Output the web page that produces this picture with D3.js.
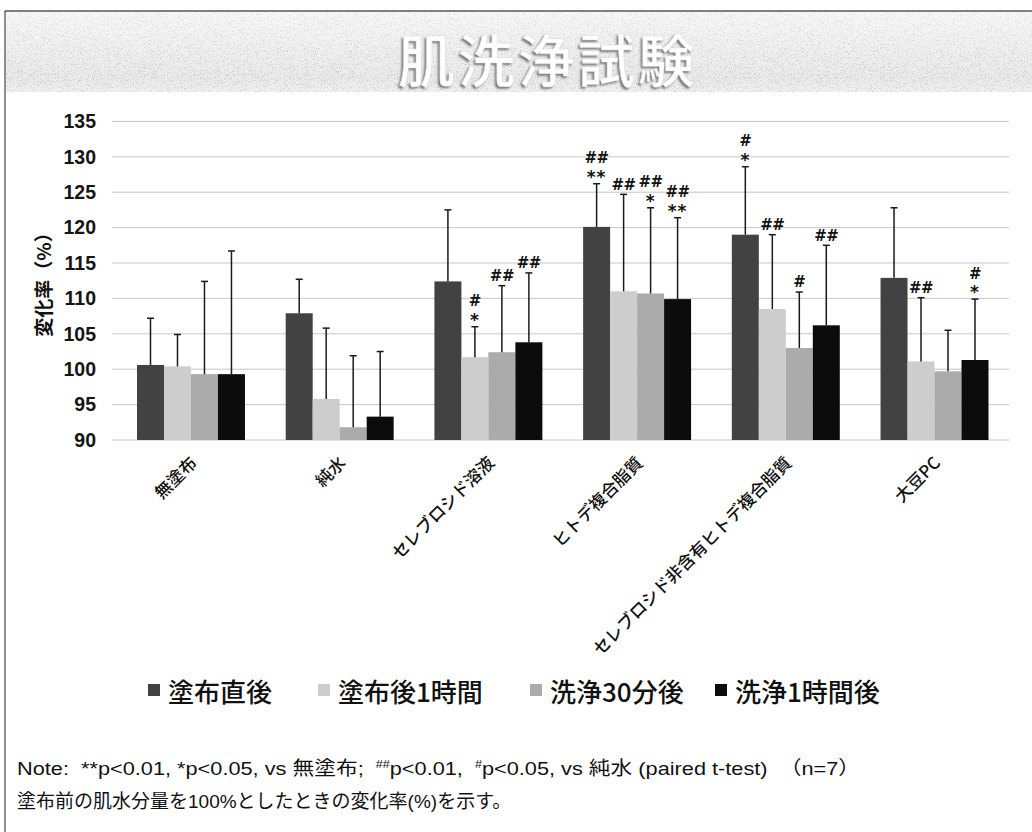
<!DOCTYPE html>
<html lang="ja">
<head>
<meta charset="utf-8">
<title>肌洗浄試験</title>
<script src="https://cdn.jsdelivr.net/npm/d3@7"></script>
<style>
html,body{margin:0;padding:0;background:#fff;}
svg{display:block;}
</style>
</head>
<body>
<script>
// 試料カテゴリ
const categories = ["無塗布","純水","セレブロシド溶液","ヒトデ複合脂質","セレブロシド非含有ヒトデ複合脂質","大豆PC"];
// 測定時点
const seriesNames = ["塗布直後","塗布後1時間","洗浄30分後","洗浄1時間後"];
// 平均変化率 (%)
const meanJustAfter = [100.6, 107.9, 112.4, 120.1, 119.0, 112.9];
const meanAfter1h   = [100.4,  95.8, 101.7, 111.0, 108.5, 101.1];
const meanWash30m   = [ 99.3,  91.8, 102.4, 110.7, 103.0,  99.7];
const meanWash1h    = [ 99.3,  93.3, 103.8, 109.9, 106.2, 101.3];
// 標準偏差
const sdJustAfter = [6.6,  4.8, 10.1,  6.1,  9.6, 9.9];
const sdAfter1h   = [4.5, 10.0,  4.3, 13.7, 10.5, 9.0];
const sdWash30m   = [13.1, 10.1, 9.4, 12.1,  7.9, 5.8];
const sdWash1h    = [17.4,  9.2, 9.8, 11.5, 11.3, 8.6];
// 有意差記号（上から順）
const sigJustAfter = [[], [], [], ["##","**"], ["#","*"], []];
const sigAfter1h   = [[], [], ["#","*"], ["##"], ["##"], ["##"]];
const sigWash30m   = [[], [], ["##"], ["##","*"], ["#"], []];
const sigWash1h    = [[], [], ["##"], ["##","**"], ["##"], ["#","*"]];
// y軸目盛
const yTicks = [90, 95, 100, 105, 110, 115, 120, 125, 130, 135];

const seriesColors = ["#424242", "#cdcdcd", "#ababab", "#0c0c0c"];
const meanTable = [meanJustAfter, meanAfter1h, meanWash30m, meanWash1h];
const sdTable = [sdJustAfter, sdAfter1h, sdWash30m, sdWash1h];
const sigTable = [sigJustAfter, sigAfter1h, sigWash30m, sigWash1h];

const rows = [];
categories.forEach((c, i) => {
  seriesNames.forEach((s, j) => {
    rows.push({cat: c, series: s, idx: j, mean: meanTable[j][i], sd: sdTable[j][i], sig: sigTable[j][i]});
  });
});

const W = 1032, H = 832;
const svg = d3.select("body").append("svg").attr("width", W).attr("height", H);
const defs = svg.append("defs");

// 見出し帯のざらつき
const grain = defs.append("filter").attr("id", "grain")
  .attr("x", 0).attr("y", 0).attr("width", "100%").attr("height", "100%");
grain.append("feTurbulence").attr("type", "fractalNoise").attr("baseFrequency", 1.3)
  .attr("numOctaves", 2).attr("seed", 7).attr("result", "noise");
grain.append("feColorMatrix").attr("in", "noise").attr("type", "matrix")
  .attr("values", "0 0 0 0 0.4  0 0 0 0 0.4  0 0 0 0 0.4  6 0 0 0 -3.2").attr("result", "dots");
grain.append("feComposite").attr("in", "dots").attr("in2", "SourceGraphic").attr("operator", "in");

const bandGrad = defs.append("linearGradient").attr("id", "bandGrad")
  .attr("x1", 0).attr("y1", 0).attr("x2", 0).attr("y2", 1);
bandGrad.append("stop").attr("offset", "0%").attr("stop-color", "#f7f7f7");
bandGrad.append("stop").attr("offset", "85%").attr("stop-color", "#eaeaea");
bandGrad.append("stop").attr("offset", "100%").attr("stop-color", "#f0f0f0");

const maskGrad = defs.append("linearGradient").attr("id", "maskGrad")
  .attr("x1", 0).attr("y1", 0).attr("x2", 0).attr("y2", 1);
maskGrad.append("stop").attr("offset", "0%").attr("stop-color", "#fff").attr("stop-opacity", 0.5);
maskGrad.append("stop").attr("offset", "80%").attr("stop-color", "#fff").attr("stop-opacity", 1);
maskGrad.append("stop").attr("offset", "100%").attr("stop-color", "#fff").attr("stop-opacity", 0.8);
defs.append("mask").attr("id", "bandMask").append("rect")
  .attr("x", 6).attr("y", 12).attr("width", W - 6).attr("height", 80).attr("fill", "url(#maskGrad)");

const shadowBlur = defs.append("filter").attr("id", "shadowBlur");
shadowBlur.append("feGaussianBlur").attr("stdDeviation", 0.8);

// 枠線
svg.append("line").attr("x1", 5).attr("x2", W).attr("y1", 11).attr("y2", 11)
  .attr("stroke", "#555").attr("stroke-width", 1.5);
svg.append("line").attr("x1", 5).attr("x2", 5).attr("y1", 11).attr("y2", H)
  .attr("stroke", "#444").attr("stroke-width", 1.2);

// 見出し帯
svg.append("rect").attr("x", 6).attr("y", 12).attr("width", W - 6).attr("height", 80)
  .attr("fill", "url(#bandGrad)");
svg.append("rect").attr("x", 6).attr("y", 12).attr("width", W - 6).attr("height", 80)
  .attr("fill", "#000").attr("filter", "url(#grain)").attr("mask", "url(#bandMask)").attr("opacity", 0.45);

// タイトル
const titleG = svg.append("g").attr("transform", "translate(548,57)");
titleG.append("text").attr("x", -2).attr("y", 1.5)
  .attr("text-anchor", "middle").attr("dominant-baseline", "central")
  .attr("font-family", "'Noto Sans CJK JP'").attr("font-weight", 500).attr("font-size", 57)
  .attr("letter-spacing", 3).attr("fill", "#777").attr("filter", "url(#shadowBlur)")
  .text("肌洗浄試験");
titleG.append("text")
  .attr("text-anchor", "middle").attr("dominant-baseline", "central")
  .attr("font-family", "'Noto Sans CJK JP'").attr("font-weight", 500).attr("font-size", 57)
  .attr("letter-spacing", 3).attr("fill", "#fff").attr("stroke", "#dcdcdc").attr("stroke-width", 0.6)
  .text("肌洗浄試験");

// スケール
const x0 = d3.scaleBand().domain(categories).range([117, 1008.5]).paddingInner(0.274).paddingOuter(0.1345);
const x1 = d3.scaleBand().domain(seriesNames).range([0, x0.bandwidth()]).padding(0);
const y = d3.scaleLinear().domain([90, 135]).range([440, 121.4]);
const color = d3.scaleOrdinal().domain(seriesNames).range(seriesColors);

// 目盛線
svg.append("g").selectAll("line").data(yTicks).join("line")
  .attr("x1", 112).attr("x2", 1009)
  .attr("y1", d => y(d)).attr("y2", d => y(d))
  .attr("stroke", "#c6c6c6").attr("stroke-width", 1);

// y軸
const yAxis = svg.append("g").attr("transform", "translate(112,0)")
  .call(d3.axisLeft(y).tickValues(yTicks).tickSize(0).tickPadding(16).tickFormat(d3.format("d")));
yAxis.select(".domain").remove();
yAxis.selectAll("text").attr("font-family", "'Liberation Sans', Arial, sans-serif")
  .attr("font-size", 19.5).attr("font-weight", 700).attr("fill", "#151515");

svg.append("text").attr("transform", "translate(42,280) rotate(-90)")
  .attr("text-anchor", "middle").attr("dominant-baseline", "central")
  .attr("font-family", "'Noto Sans CJK JP'").attr("font-weight", 700).attr("font-size", 19)
  .attr("fill", "#111").text("変化率（%）");

// x軸ラベル
const xAxis = svg.append("g").attr("transform", "translate(0,440)")
  .call(d3.axisBottom(x0).tickSize(0).tickPadding(0));
xAxis.select(".domain").remove();
xAxis.selectAll("text")
  .attr("font-family", "'Noto Sans CJK JP'").attr("font-weight", 500).attr("font-size", 17)
  .attr("fill", "#111").attr("text-anchor", "end").attr("dy", null).attr("y", 0)
  .attr("transform", "translate(7,24) rotate(-45)");

// 棒
const bars = svg.append("g");
bars.selectAll("rect").data(rows).join("rect")
  .attr("x", d => x0(d.cat) + x1(d.series))
  .attr("y", d => y(d.mean))
  .attr("width", x1.bandwidth())
  .attr("height", d => y(90) - y(d.mean))
  .attr("fill", d => color(d.series));

// 誤差棒 (平均 + SD)
const err = svg.append("g").attr("stroke", "#1a1a1a").attr("stroke-width", 1.5);
err.selectAll("line.v").data(rows).join("line").attr("class", "v")
  .attr("x1", d => x0(d.cat) + x1(d.series) + x1.bandwidth() / 2)
  .attr("x2", d => x0(d.cat) + x1(d.series) + x1.bandwidth() / 2)
  .attr("y1", d => y(d.mean)).attr("y2", d => y(d.mean + d.sd));
err.selectAll("line.cap").data(rows).join("line").attr("class", "cap")
  .attr("x1", d => x0(d.cat) + x1(d.series) + x1.bandwidth() / 2 - 3.5)
  .attr("x2", d => x0(d.cat) + x1(d.series) + x1.bandwidth() / 2 + 3.5)
  .attr("y1", d => y(d.mean + d.sd)).attr("y2", d => y(d.mean + d.sd));

// 有意差記号
const sigG = svg.append("g").attr("font-family", "'DejaVu Sans', sans-serif")
  .attr("font-weight", 700).attr("fill", "#111").attr("text-anchor", "middle");
rows.forEach(d => {
  const cx = x0(d.cat) + x1(d.series) + x1.bandwidth() / 2;
  const capY = y(d.mean + d.sd);
  const n = d.sig.length;
  d.sig.forEach((s, k) => {
    const level = n - 1 - k; // 0 = 下段
    const centre = capY - 10 - level * 16;
    const isStar = s.startsWith("*");
    const size = isStar ? 17 : 15;
    const base = isStar ? centre + 0.55 * size : centre + 0.36 * size;
    sigG.append("text").attr("x", cx).attr("y", base).attr("font-size", size)
      .attr("letter-spacing", isStar ? 1 : -0.5).text(s);
  });
});

// 凡例
const legend = svg.append("g").attr("font-family", "'Noto Sans CJK JP'").attr("font-size", 26)
  .attr("font-weight", 500).attr("fill", "#111");
const legendX = [148, 318, 530, 715];
seriesNames.forEach((s, j) => {
  legend.append("rect").attr("x", legendX[j]).attr("y", 684).attr("width", 12).attr("height", 12)
    .attr("fill", color(s));
  legend.append("text").attr("x", legendX[j] + 20).attr("y", 690)
    .attr("dominant-baseline", "central").text(s);
});

// 注記
const note = svg.append("g").attr("font-family", "'Liberation Sans', 'Noto Sans CJK JP', sans-serif")
  .attr("font-size", 19).attr("fill", "#111");
const l1 = note.append("text").attr("x", 17).attr("y", 775).attr("xml:space", "preserve")
  .attr("textLength", 843).attr("lengthAdjust", "spacingAndGlyphs");
l1.append("tspan").text("Note:  **p<0.01, *p<0.05, vs 無塗布;  ");
l1.append("tspan").attr("font-size", 11).attr("dy", -7).text("##");
l1.append("tspan").attr("dy", 7).text("p<0.01,  ");
l1.append("tspan").attr("font-size", 11).attr("dy", -7).text("#");
l1.append("tspan").attr("dy", 7).text("p<0.05, vs 純水 (paired t-test)  （n=7）");
note.append("text").attr("x", 17).attr("y", 808)
  .text("塗布前の肌水分量を100%としたときの変化率(%)を示す。");
</script>
</body>
</html>
